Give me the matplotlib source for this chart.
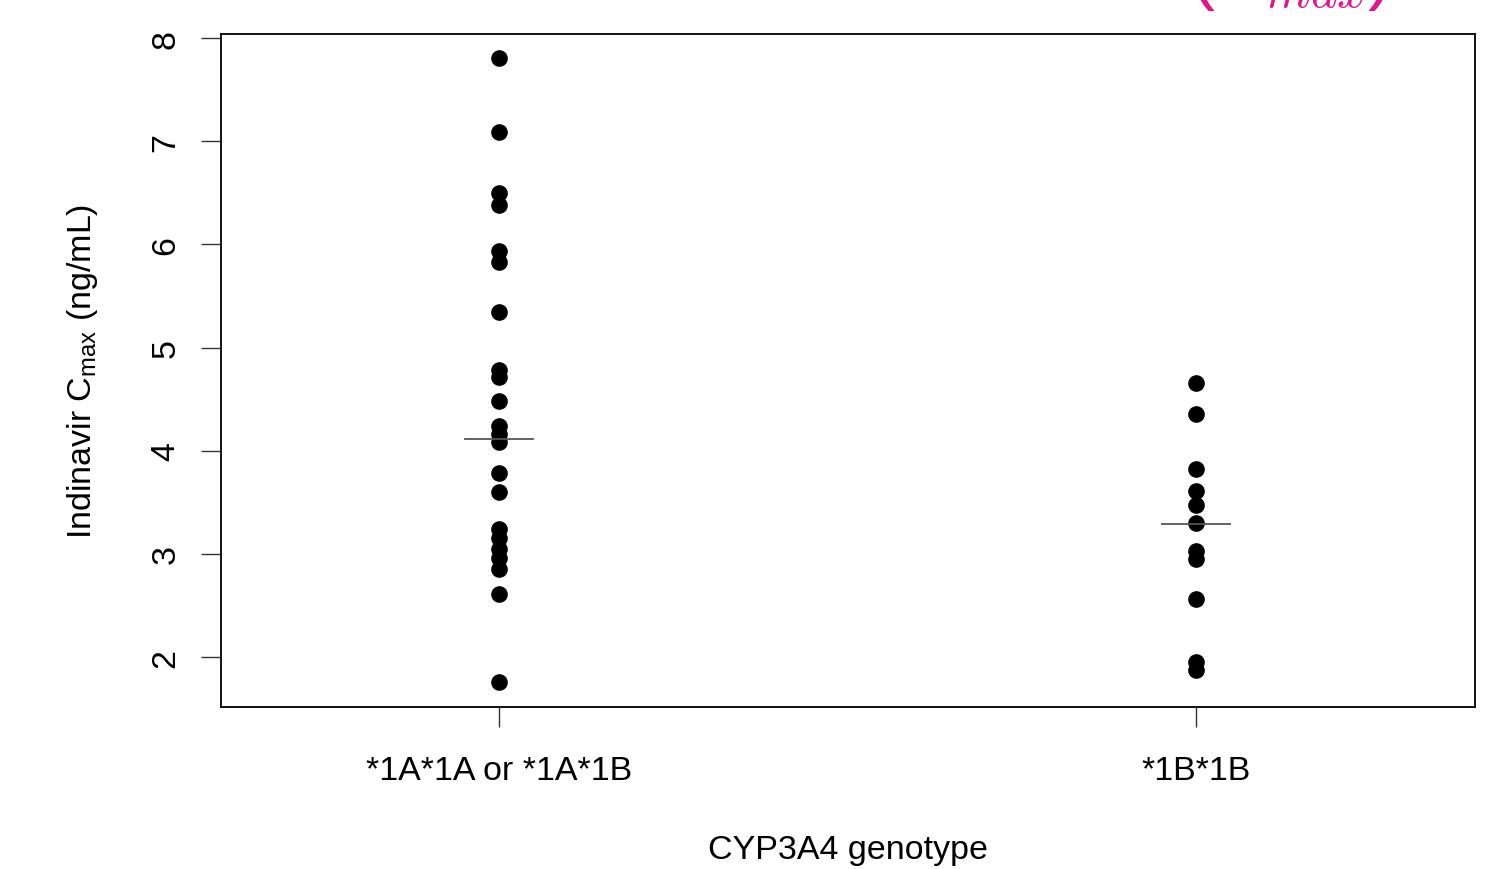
import matplotlib
matplotlib.use("Agg")
import matplotlib.pyplot as plt

plt.rcParams['font.family'] = ['Liberation Sans', 'DejaVu Sans']
plt.rcParams['mathtext.default'] = 'regular'

categories = ["*1A*1A or *1A*1B", "*1B*1B"]
group1 = [7.81, 7.09, 6.50, 6.38, 5.94, 5.83, 5.34, 4.78, 4.71, 4.48, 4.24,
          4.16, 4.08, 3.78, 3.60, 3.24, 3.15, 3.05, 2.96, 2.85, 2.61, 1.76]
group2 = [4.66, 4.36, 3.82, 3.61, 3.47, 3.30, 3.03, 2.95, 2.56, 1.95, 1.87]
medians = [4.11, 3.29]
yticks = [2, 3, 4, 5, 6, 7, 8]

fig = plt.figure(figsize=(15.06, 8.70), dpi=100)
ax = fig.add_axes([221/1506, 1 - 708/870, (1475-221)/1506, (708-35)/870])

for i, vals in enumerate([group1, group2]):
    ax.plot([i + 1] * len(vals), vals, 'o', color='black', markersize=12,
            markeredgewidth=0, zorder=3)
    ax.plot([i + 1 - 0.049, i + 1 + 0.049], [medians[i]] * 2, color='#555555',
            linewidth=1.3, zorder=4)

ax.set_xlim(0.601, 2.4)
ax.set_ylim(1.516, 8.039)
ax.set_xticks([1, 2])
ax.set_xticklabels(categories)
ax.set_yticks(yticks)
ax.set_yticklabels([str(t) for t in yticks], rotation=90, va='center')

for s in ax.spines.values():
    s.set_linewidth(1.3)
    s.set_color('black')
ax.tick_params(axis='both', length=14.4, width=1.0, color='#333333',
               labelsize=24.5, direction='out')
ax.tick_params(axis='y', pad=14)
ax.tick_params(axis='x', pad=20)

ax.set_ylabel("Indinavir C$_{max}$ (ng/mL)", fontsize=24.5)
ax.yaxis.set_label_coords((83 - 221) / 1254, 0.5)
ax.yaxis.label.set_va('center')
ax.set_xlabel("CYP3A4 genotype", fontsize=24.5)
ax.xaxis.set_label_coords(0.5, -(851 - 708) / 673)
ax.xaxis.label.set_va('center')

fig.text(1290/1506, 1.0047, r"$(\mathit{C}_{\mathit{max}})$", fontsize=52,
         color='#E5128A', ha='center', va='baseline', math_fontfamily='cm')

fig.savefig("out.png", dpi=100)
